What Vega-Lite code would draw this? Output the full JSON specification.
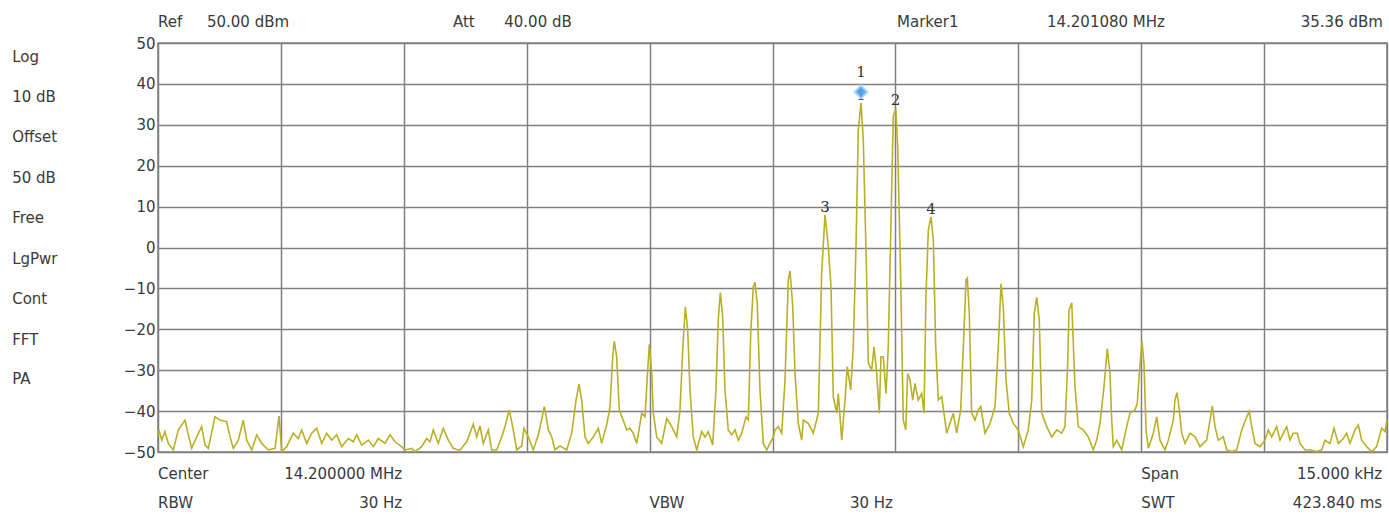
{
  "$schema": "https://vega.github.io/schema/vega-lite/v6.json",
  "width": 1229,
  "height": 409,
  "autosize": {"type": "none"},
  "padding": {"left": 158, "top": 43, "right": 2, "bottom": 69},
  "background": "white",
  "config": {
    "view": {"stroke": "#808080", "strokeWidth": 1.5},
    "text": {"font": "DejaVu Sans", "fontSize": 15, "color": "#3a3a3a", "baseline": "middle"}
  },
  "datasets": {
    "trace": [
      {"f":-7.5,"dbm":-46.0},{"f":-7.488,"dbm":-44.6},{"f":-7.455,"dbm":-47.1},{"f":-7.415,"dbm":-45.0},{"f":-7.374,"dbm":-47.9},{"f":-7.313,"dbm":-49.5},{"f":-7.252,"dbm":-44.6},{"f":-7.17,"dbm":-42.2},{"f":-7.13,"dbm":-45.8},{"f":-7.089,"dbm":-49.1},{"f":-7.028,"dbm":-46.3},{"f":-6.967,"dbm":-43.8},{"f":-6.926,"dbm":-48.3},{"f":-6.886,"dbm":-49.1},{"f":-6.804,"dbm":-41.4},{"f":-6.743,"dbm":-42.2},{"f":-6.662,"dbm":-42.6},{"f":-6.621,"dbm":-46.3},{"f":-6.581,"dbm":-49.1},{"f":-6.52,"dbm":-47.1},{"f":-6.459,"dbm":-42.2},{"f":-6.417,"dbm":-47.1},{"f":-6.356,"dbm":-49.5},{"f":-6.295,"dbm":-45.8},{"f":-6.234,"dbm":-47.9},{"f":-6.154,"dbm":-49.5},{"f":-6.072,"dbm":-49.1},{"f":-6.023,"dbm":-41.2},{"f":-5.99,"dbm":-49.9},{"f":-5.929,"dbm":-48.7},{"f":-5.849,"dbm":-45.4},{"f":-5.788,"dbm":-46.7},{"f":-5.746,"dbm":-44.6},{"f":-5.685,"dbm":-47.9},{"f":-5.624,"dbm":-45.4},{"f":-5.563,"dbm":-44.2},{"f":-5.502,"dbm":-47.9},{"f":-5.441,"dbm":-45.4},{"f":-5.38,"dbm":-47.1},{"f":-5.319,"dbm":-45.8},{"f":-5.258,"dbm":-48.7},{"f":-5.177,"dbm":-46.7},{"f":-5.116,"dbm":-47.5},{"f":-5.075,"dbm":-45.8},{"f":-5.014,"dbm":-48.3},{"f":-4.933,"dbm":-47.1},{"f":-4.872,"dbm":-48.7},{"f":-4.811,"dbm":-46.7},{"f":-4.729,"dbm":-47.9},{"f":-4.668,"dbm":-45.8},{"f":-4.607,"dbm":-47.5},{"f":-4.526,"dbm":-48.7},{"f":-4.485,"dbm":-49.5},{"f":-4.404,"dbm":-49.1},{"f":-4.363,"dbm":-49.9},{"f":-4.282,"dbm":-48.7},{"f":-4.221,"dbm":-46.7},{"f":-4.18,"dbm":-47.5},{"f":-4.14,"dbm":-44.6},{"f":-4.079,"dbm":-47.9},{"f":-4.018,"dbm":-44.2},{"f":-3.957,"dbm":-47.1},{"f":-3.896,"dbm":-49.1},{"f":-3.835,"dbm":-49.5},
      {"f":-3.814,"dbm":-49.5},{"f":-3.732,"dbm":-47.5},{"f":-3.652,"dbm":-43.2},{"f":-3.61,"dbm":-46.3},{"f":-3.57,"dbm":-43.6},{"f":-3.53,"dbm":-47.9},{"f":-3.469,"dbm":-44.6},{"f":-3.427,"dbm":-49.5},{"f":-3.366,"dbm":-49.5},{"f":-3.305,"dbm":-46.3},{"f":-3.265,"dbm":-43.8},{"f":-3.212,"dbm":-39.7},{"f":-3.164,"dbm":-44.6},{"f":-3.122,"dbm":-49.5},{"f":-3.061,"dbm":-48.5},{"f":-3.033,"dbm":-44.2},{"f":-2.981,"dbm":-46.3},{"f":-2.92,"dbm":-49.5},{"f":-2.858,"dbm":-45.8},{"f":-2.817,"dbm":-42.0},{"f":-2.785,"dbm":-38.9},{"f":-2.756,"dbm":-42.0},{"f":-2.736,"dbm":-44.6},{"f":-2.695,"dbm":-46.3},{"f":-2.655,"dbm":-49.5},{"f":-2.594,"dbm":-48.5},{"f":-2.512,"dbm":-49.5},{"f":-2.451,"dbm":-45.4},{"f":-2.398,"dbm":-37.3},{"f":-2.362,"dbm":-33.4},{"f":-2.329,"dbm":-37.3},{"f":-2.288,"dbm":-46.3},{"f":-2.248,"dbm":-47.9},{"f":-2.187,"dbm":-46.3},{"f":-2.126,"dbm":-44.2},{"f":-2.085,"dbm":-47.9},{"f":-2.024,"dbm":-43.4},{"f":-1.983,"dbm":-38.9},{"f":-1.95,"dbm":-26.7},{"f":-1.931,"dbm":-22.9},{"f":-1.902,"dbm":-26.7},{"f":-1.87,"dbm":-39.7},{"f":-1.821,"dbm":-42.3},{"f":-1.78,"dbm":-44.6},{"f":-1.739,"dbm":-44.2},{"f":-1.699,"dbm":-45.4},{"f":-1.657,"dbm":-47.9},{"f":-1.596,"dbm":-40.5},{"f":-1.556,"dbm":-41.4},{"f":-1.528,"dbm":-31.6},{"f":-1.504,"dbm":-23.7},{"f":-1.474,"dbm":-30.8},{"f":-1.455,"dbm":-40.5},{"f":-1.413,"dbm":-46.3},{"f":-1.352,"dbm":-47.9},{"f":-1.291,"dbm":-41.8},{"f":-1.23,"dbm":-43.8},{"f":-1.169,"dbm":-46.3},{"f":-1.129,"dbm":-39.7},{"f":-1.096,"dbm":-25.1},{"f":-1.064,"dbm":-14.5},{"f":-1.035,"dbm":-20.2},{"f":-1.007,"dbm":-34.8},{"f":-0.967,"dbm":-46.3},{"f":-0.925,"dbm":-49.5},{"f":-0.864,"dbm":-45.0},{"f":-0.824,"dbm":-46.3},{"f":-0.784,"dbm":-45.0},{"f":-0.73,"dbm":-48.3},{"f":-0.69,"dbm":-34.8},{"f":-0.662,"dbm":-17.7},{"f":-0.637,"dbm":-11.0},{"f":-0.608,"dbm":-16.9},{"f":-0.58,"dbm":-34.8},{"f":-0.54,"dbm":-44.6},{"f":-0.498,"dbm":-45.8},{"f":-0.458,"dbm":-44.6},{"f":-0.417,"dbm":-47.1},{"f":-0.376,"dbm":-45.4},{"f":-0.323,"dbm":-41.4},{"f":-0.295,"dbm":-42.2},{"f":-0.266,"dbm":-21.0},{"f":-0.234,"dbm":-9.6},{"f":-0.214,"dbm":-8.5},{"f":-0.186,"dbm":-13.6},{"f":-0.153,"dbm":-34.8},{"f":-0.112,"dbm":-47.9},{"f":-0.071,"dbm":-49.5},{"f":0.01,"dbm":-46.3},
      {"f":0.031,"dbm":-44.6},{"f":0.071,"dbm":-43.8},{"f":0.112,"dbm":-45.4},{"f":0.153,"dbm":-32.4},{"f":0.193,"dbm":-7.9},{"f":0.214,"dbm":-5.7},{"f":0.247,"dbm":-14.5},{"f":0.275,"dbm":-30.8},{"f":0.315,"dbm":-43.0},{"f":0.356,"dbm":-47.1},{"f":0.376,"dbm":-42.2},{"f":0.437,"dbm":-43.0},{"f":0.498,"dbm":-45.4},{"f":0.559,"dbm":-40.5},{"f":0.6,"dbm":-6.3},{"f":0.641,"dbm":8.0},{"f":0.681,"dbm":0.2},{"f":0.714,"dbm":-9.6},{"f":0.742,"dbm":-36.5},{"f":0.784,"dbm":-40.5},{"f":0.803,"dbm":-35.7},{"f":0.845,"dbm":-47.1},{"f":0.885,"dbm":-37.3},{"f":0.913,"dbm":-29.1},{"f":0.954,"dbm":-34.8},{"f":0.986,"dbm":-24.3},{"f":1.019,"dbm":0.2},{"f":1.047,"dbm":28.7},{"f":1.08,"dbm":35.36},{"f":1.108,"dbm":26.3},{"f":1.15,"dbm":-7.9},{"f":1.169,"dbm":-28.3},{"f":1.211,"dbm":-29.9},{"f":1.239,"dbm":-24.3},{"f":1.272,"dbm":-30.8},{"f":1.303,"dbm":-40.5},{"f":1.324,"dbm":-26.7},{"f":1.352,"dbm":-26.7},{"f":1.385,"dbm":-35.7},{"f":1.413,"dbm":-24.3},{"f":1.443,"dbm":3.5},{"f":1.474,"dbm":32.0},{"f":1.504,"dbm":34.0},{"f":1.528,"dbm":24.6},{"f":1.565,"dbm":-7.9},{"f":1.596,"dbm":-42.2},{"f":1.626,"dbm":-44.6},{"f":1.65,"dbm":-30.8},{"f":1.678,"dbm":-32.4},{"f":1.711,"dbm":-37.3},{"f":1.739,"dbm":-33.2},{"f":1.779,"dbm":-37.3},{"f":1.821,"dbm":-35.7},{"f":1.849,"dbm":-40.5},{"f":1.873,"dbm":-12.0},{"f":1.902,"dbm":4.3},{"f":1.934,"dbm":7.5},{"f":1.963,"dbm":1.8},{"f":1.992,"dbm":-24.3},{"f":2.024,"dbm":-37.3},{"f":2.065,"dbm":-36.5},{"f":2.093,"dbm":-40.5},{"f":2.126,"dbm":-45.4},{"f":2.166,"dbm":-43.0},{"f":2.207,"dbm":-40.5},{"f":2.248,"dbm":-45.4},{"f":2.297,"dbm":-39.7},{"f":2.329,"dbm":-24.3},{"f":2.362,"dbm":-7.9},{"f":2.378,"dbm":-7.5},{"f":2.402,"dbm":-16.1},{"f":2.431,"dbm":-40.5},{"f":2.471,"dbm":-42.2},{"f":2.512,"dbm":-39.7},{"f":2.541,"dbm":-38.9},{"f":2.594,"dbm":-45.4},{"f":2.655,"dbm":-43.0},{"f":2.716,"dbm":-38.9},{"f":2.756,"dbm":-24.3},{"f":2.789,"dbm":-8.9},{"f":2.817,"dbm":-14.5},{"f":2.85,"dbm":-32.4},{"f":2.89,"dbm":-40.5},{"f":2.939,"dbm":-43.0},{"f":3.0,"dbm":-44.6},{"f":3.061,"dbm":-48.7},{"f":3.122,"dbm":-44.6},{"f":3.164,"dbm":-37.3},{"f":3.195,"dbm":-16.1},{"f":3.225,"dbm":-12.2},{"f":3.256,"dbm":-17.7},{"f":3.286,"dbm":-40.5},{"f":3.347,"dbm":-43.8},{"f":3.408,"dbm":-46.3},{"f":3.469,"dbm":-44.6},{"f":3.53,"dbm":-45.4},{"f":3.57,"dbm":-43.8},{"f":3.603,"dbm":-28.3},{"f":3.619,"dbm":-15.3},
      {"f":3.652,"dbm":-13.5},{"f":3.692,"dbm":-34.0},{"f":3.732,"dbm":-43.8},{"f":3.793,"dbm":-44.6},{"f":3.854,"dbm":-46.3},{"f":3.915,"dbm":-49.5},{"f":3.957,"dbm":-47.1},{"f":3.997,"dbm":-43.0},{"f":4.046,"dbm":-34.0},{"f":4.086,"dbm":-24.7},{"f":4.119,"dbm":-30.8},{"f":4.14,"dbm":-42.2},{"f":4.159,"dbm":-48.7},{"f":4.201,"dbm":-47.1},{"f":4.262,"dbm":-49.5},{"f":4.323,"dbm":-43.8},{"f":4.363,"dbm":-40.5},{"f":4.424,"dbm":-39.7},{"f":4.452,"dbm":-38.1},{"f":4.477,"dbm":-30.8},{"f":4.51,"dbm":-23.0},{"f":4.534,"dbm":-28.3},{"f":4.559,"dbm":-44.6},{"f":4.587,"dbm":-49.1},{"f":4.648,"dbm":-45.4},{"f":4.689,"dbm":-41.4},{"f":4.729,"dbm":-47.1},{"f":4.79,"dbm":-49.5},{"f":4.831,"dbm":-47.1},{"f":4.892,"dbm":-42.2},{"f":4.912,"dbm":-37.3},{"f":4.937,"dbm":-35.5},{"f":4.965,"dbm":-39.7},{"f":4.994,"dbm":-45.4},{"f":5.035,"dbm":-47.9},{"f":5.096,"dbm":-45.4},{"f":5.157,"dbm":-46.3},{"f":5.218,"dbm":-48.7},{"f":5.299,"dbm":-47.1},{"f":5.34,"dbm":-42.2},{"f":5.368,"dbm":-38.8},{"f":5.401,"dbm":-43.8},{"f":5.441,"dbm":-47.1},{"f":5.502,"dbm":-46.3},{"f":5.544,"dbm":-49.5},{"f":5.605,"dbm":-49.9},{"f":5.666,"dbm":-49.5},{"f":5.727,"dbm":-44.6},{"f":5.788,"dbm":-41.4},{"f":5.819,"dbm":-40.1},{"f":5.849,"dbm":-43.8},{"f":5.889,"dbm":-47.9},{"f":5.95,"dbm":-48.7},{"f":6.011,"dbm":-47.1},{"f":6.051,"dbm":-44.6},{"f":6.093,"dbm":-46.3},{"f":6.154,"dbm":-43.8},{"f":6.194,"dbm":-47.1},{"f":6.234,"dbm":-45.4},{"f":6.276,"dbm":-43.8},{"f":6.316,"dbm":-47.1},{"f":6.356,"dbm":-45.4},{"f":6.405,"dbm":-45.4},{"f":6.438,"dbm":-47.9},{"f":6.499,"dbm":-49.5},{"f":6.56,"dbm":-49.5},{"f":6.642,"dbm":-49.9},{"f":6.703,"dbm":-49.5},{"f":6.743,"dbm":-47.1},{"f":6.804,"dbm":-47.9},{"f":6.853,"dbm":-44.2},{"f":6.906,"dbm":-47.9},{"f":6.967,"dbm":-46.7},{"f":7.008,"dbm":-45.4},{"f":7.048,"dbm":-47.9},{"f":7.109,"dbm":-44.6},{"f":7.15,"dbm":-43.4},{"f":7.191,"dbm":-47.1},{"f":7.252,"dbm":-48.7},{"f":7.313,"dbm":-49.9},{"f":7.374,"dbm":-48.7},{"f":7.435,"dbm":-44.2},{"f":7.476,"dbm":-45.0},{"f":7.5,"dbm":-42.0}
    ],
    "markers": [
      {"m":"1","f":1.08,"dbm":35.36},
      {"m":"2","f":1.5,"dbm":34.0},
      {"m":"3","f":0.641,"dbm":8.0},
      {"m":"4","f":1.934,"dbm":7.5}
    ],
    "notesLeft": [
      {"t":"Ref","f":-7.5,"dbm":55.1},
      {"t":"Att","f":-3.9,"dbm":55.1},
      {"t":"Marker1","f":1.52,"dbm":55.1},
      {"t":"Center","f":-7.5,"dbm":-55.3},
      {"t":"RBW","f":-7.5,"dbm":-62.5},
      {"t":"VBW","f":-1.5,"dbm":-62.5},
      {"t":"Span","f":4.5,"dbm":-55.3},
      {"t":"SWT","f":4.5,"dbm":-62.5},
      {"t":"Log","f":-9.28,"dbm":46.6},
      {"t":"10 dB","f":-9.28,"dbm":36.8},
      {"t":"Offset","f":-9.28,"dbm":27.0},
      {"t":"50 dB","f":-9.28,"dbm":17.1},
      {"t":"Free","f":-9.28,"dbm":7.2},
      {"t":"LgPwr","f":-9.28,"dbm":-2.8},
      {"t":"Cont","f":-9.28,"dbm":-12.6},
      {"t":"FFT","f":-9.28,"dbm":-22.6},
      {"t":"PA","f":-9.28,"dbm":-32.2}
    ],
    "notesRight": [
      {"t":"50.00 dBm","f":-5.9,"dbm":55.1},
      {"t":"40.00 dB","f":-2.45,"dbm":55.1},
      {"t":"14.201080 MHz","f":4.79,"dbm":55.1},
      {"t":"35.36 dBm","f":7.45,"dbm":55.1},
      {"t":"14.200000 MHz","f":-4.52,"dbm":-55.3},
      {"t":"30 Hz","f":-4.52,"dbm":-62.5},
      {"t":"30 Hz","f":1.47,"dbm":-62.5},
      {"t":"15.000 kHz","f":7.44,"dbm":-55.3},
      {"t":"423.840 ms","f":7.44,"dbm":-62.5}
    ]
  },
  "layer": [
    {
      "data": {"name": "trace"},
      "mark": {"type": "line", "color": "#b9b025", "strokeWidth": 1.6, "interpolate": "linear"},
      "encoding": {
        "x": {"field": "f", "type": "quantitative",
              "scale": {"domain": [-7.5, 7.5], "nice": false, "zero": false},
              "axis": {"values": [-7.5,-6,-4.5,-3,-1.5,0,1.5,3,4.5,6,7.5], "labels": false, "ticks": false, "domain": false, "title": null, "grid": true, "gridColor": "#808080", "gridWidth": 1.5, "gridOpacity": 1}},
        "y": {"field": "dbm", "type": "quantitative",
              "scale": {"domain": [-50, 50], "nice": false, "zero": false},
              "axis": {"values": [-50,-40,-30,-20,-10,0,10,20,30,40,50], "ticks": false, "domain": false, "title": null, "grid": true, "gridColor": "#808080", "gridWidth": 1.5, "gridOpacity": 1, "labelFont": "DejaVu Sans", "labelFontSize": 15, "labelColor": "#3a3a3a", "labelPadding": 3, "labelFlush": false, "labelBound": false}}
      }
    },
    {
      "data": {"name": "markers"},
      "mark": {"type": "text", "font": "DejaVu Serif", "fontSize": 15, "dy": -8, "color": "#333333"},
      "encoding": {
        "x": {"field": "f", "type": "quantitative"},
        "y": {"field": "dbm", "type": "quantitative"},
        "text": {"field": "m"}
      }
    },
    {
      "data": {"name": "markers"},
      "transform": [{"filter": "datum.m == '1'"}],
      "mark": {"type": "point", "shape": "diamond", "filled": true, "color": "#4ea3ea", "size": 170, "opacity": 0.9, "stroke": "#a8d5f8", "strokeWidth": 2},
      "encoding": {
        "x": {"field": "f", "type": "quantitative"},
        "y": {"field": "dbm", "type": "quantitative"},
        "yOffset": {"value": -11}
      }
    },
    {
      "data": {"name": "markers"},
      "transform": [{"filter": "datum.m == '1'"}],
      "mark": {"type": "text", "font": "DejaVu Serif", "fontSize": 15, "dy": -31, "color": "#333333"},
      "encoding": {
        "x": {"field": "f", "type": "quantitative"},
        "y": {"field": "dbm", "type": "quantitative"},
        "text": {"field": "m"}
      }
    },
    {
      "data": {"name": "notesLeft"},
      "mark": {"type": "text", "align": "left"},
      "encoding": {
        "x": {"field": "f", "type": "quantitative"},
        "y": {"field": "dbm", "type": "quantitative"},
        "text": {"field": "t"}
      }
    },
    {
      "data": {"name": "notesRight"},
      "mark": {"type": "text", "align": "right"},
      "encoding": {
        "x": {"field": "f", "type": "quantitative"},
        "y": {"field": "dbm", "type": "quantitative"},
        "text": {"field": "t"}
      }
    }
  ]
}
